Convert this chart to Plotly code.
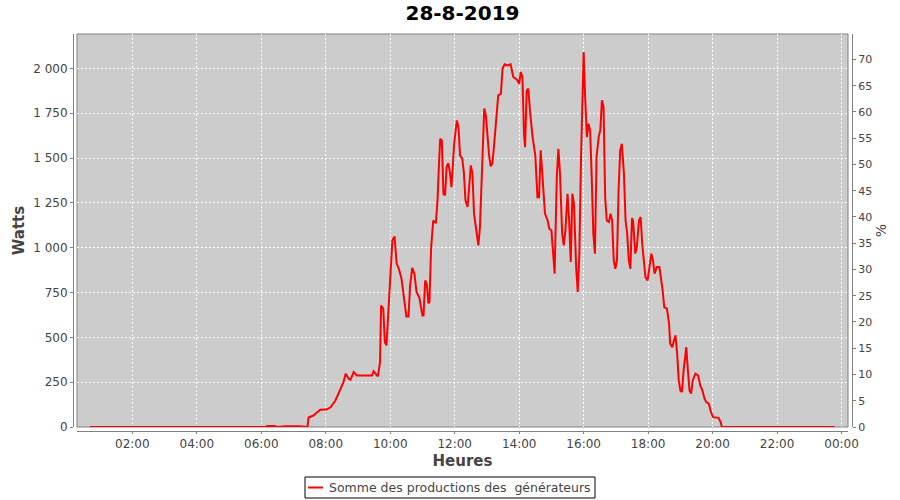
import plotly.graph_objects as go

DAY = "2019-08-28"

times = [
    "00:41", "03:00", "06:07", "06:12", "06:25", "06:30", "06:45", "07:10", "07:26",
    "07:28", "07:37", "07:43", "07:50", "08:01", "08:09", "08:18", "08:27", "08:33", "08:37",
    "08:43", "08:46", "08:52", "08:58", "09:26", "09:29", "09:37", "09:41", "09:43", "09:47",
    "09:50", "09:53", "09:56", "09:58", "10:04", "10:08", "10:12", "10:16", "10:21", "10:27",
    "10:30", "10:34", "10:37", "10:41", "10:45", "10:49", "10:54", "11:00", "11:02", "11:05",
    "11:08", "11:11", "11:13", "11:16", "11:20", "11:25", "11:28", "11:31", "11:33", "11:36",
    "11:39", "11:42", "11:45", "11:48", "11:51", "11:54", "11:59", "12:04", "12:07", "12:10",
    "12:14", "12:17", "12:20", "12:24", "12:27", "12:30", "12:33", "12:36", "12:41", "12:44",
    "12:47", "12:52", "12:55", "12:58", "13:01", "13:04", "13:07", "13:10", "13:13", "13:16",
    "13:21", "13:26", "13:29", "13:33", "13:38", "13:44", "13:49", "13:56", "14:00", "14:03",
    "14:06", "14:09", "14:11", "14:14", "14:17", "14:20", "14:25", "14:30", "14:34", "14:37",
    "14:40", "14:43", "14:48", "14:53", "14:56", "15:00", "15:03", "15:06", "15:10", "15:13",
    "15:16", "15:20", "15:23", "15:26", "15:30", "15:33", "15:36", "15:39", "15:42", "15:46",
    "15:49", "15:52", "15:55", "15:58", "16:00", "16:03", "16:06", "16:09", "16:12", "16:15",
    "16:18", "16:21", "16:24", "16:28", "16:31", "16:34", "16:37", "16:40", "16:43", "16:47",
    "16:50", "16:53", "16:56", "16:59", "17:02", "17:05", "17:08", "17:11", "17:15", "17:18",
    "17:21", "17:24", "17:27", "17:30", "17:32", "17:36", "17:39", "17:43", "17:46", "17:49",
    "17:52", "17:55", "17:59", "18:02", "18:06", "18:09", "18:12", "18:16", "18:21", "18:27",
    "18:30", "18:35", "18:39", "18:41", "18:45", "18:48", "18:51", "18:54", "18:57", "19:00",
    "19:03", "19:06", "19:11", "19:14", "19:17", "19:20", "19:23", "19:28", "19:33", "19:37",
    "19:41", "19:45", "19:48", "19:53", "19:57", "20:01", "20:05", "20:11", "20:15", "20:17",
    "22:00", "23:47",
]

watts = [
    0, 0, 0, 6, 6, 0, 4, 4, 0,
    53, 64, 79, 96, 97, 110, 148, 204, 250, 297,
    269, 263, 306, 287, 287, 311, 282, 362, 678, 660,
    473, 455, 632, 743, 1041, 1063, 911, 883, 827, 687,
    617, 617, 790, 888, 855, 752, 724, 622, 622, 817,
    799, 691, 696, 994, 1152, 1137, 1264, 1487, 1608, 1599,
    1301, 1292, 1450, 1472, 1422, 1338, 1580, 1710, 1673, 1515,
    1497, 1422, 1264, 1227, 1357, 1459, 1413, 1190, 1078, 1013,
    1115, 1599, 1776, 1738, 1608, 1515, 1454, 1469, 1561, 1692,
    1850, 1859, 1999, 2023, 2017, 2023, 1952, 1937, 1915, 1980,
    1952, 1636, 1561, 1878, 1887, 1766, 1617, 1515, 1282, 1282,
    1543, 1413, 1190, 1152, 1106, 1097, 967, 855, 1394, 1552,
    1413, 1078, 1013, 1097, 1301, 1152, 920, 1301, 1245, 892,
    752, 967, 1487, 1934, 2092, 1822, 1617, 1692, 1655, 1394,
    1078, 967, 1506, 1617, 1655, 1822, 1785, 1282, 1152, 1143,
    1190, 1152, 929, 883, 929, 1320, 1543, 1580, 1413, 1152,
    1078, 929, 883, 1165, 1150, 967, 1004, 1152, 1171, 1022,
    929, 836, 818, 873, 967, 929, 855, 892, 892, 762,
    669, 660, 576, 464, 445, 483, 511, 409, 260, 204,
    195, 316, 445, 316, 204, 186, 260, 297, 288, 232,
    204, 158, 139, 130, 83, 55, 55, 51, 27, 2,
    0, 0,
]

series_name = "Somme des productions des\u00a0 générateurs"
x_ticks_every_hours = 2
y_left_ticks = [0, 250, 500, 750, 1000, 1250, 1500, 1750, 2000]
y_right_ticks = [0, 5, 10, 15, 20, 25, 30, 35, 40, 45, 50, 55, 60, 65, 70]

x_values = [f"{DAY} {t}" for t in times]

FONT = "DejaVu Sans"
TXT = "#444444"
AX = "#808080"
RED = "#ff0000"

fig = go.Figure()
fig.add_trace(go.Scatter(
    x=x_values, y=watts, mode="lines",
    line=dict(color=RED, width=2),
    name=series_name, showlegend=False,
))
# invisible trace to bind the right axis
fig.add_trace(go.Scatter(x=[x_values[0]], y=[0], yaxis="y2", mode="lines",
                         line=dict(width=0), showlegend=False, hoverinfo="skip"))

W, H = 900, 500
ml, mr, mt, mb = 73, 48, 34, 69
pw = W - ml - mr
ph = H - mt - mb


def px_x(p):
    return (p - ml) / pw


def px_y(p):
    return (H - mb - p) / ph


# legend box (drawn by hand, JFreeChart style)
LB = dict(x0=305, x1=595, y0=477, y1=498)
leg_mid = (LB["y0"] + LB["y1"]) / 2

shapes = [
    dict(type="rect", xref="x domain", yref="y domain", x0=0, x1=1, y0=0, y1=1,
         line=dict(color=AX, width=1), fillcolor="rgba(0,0,0,0)", layer="below"),
    dict(type="rect", xref="paper", yref="paper",
         x0=px_x(LB["x0"]), x1=px_x(LB["x1"]), y0=px_y(LB["y1"]), y1=px_y(LB["y0"]),
         line=dict(color="black", width=1), fillcolor="white"),
    dict(type="line", xref="paper", yref="paper",
         x0=px_x(LB["x0"] + 3), x1=px_x(LB["x0"] + 18), y0=px_y(leg_mid), y1=px_y(leg_mid),
         line=dict(color=RED, width=2)),
]

annotations = [
    dict(text=series_name, xref="paper", yref="paper",
         x=px_x(LB["x0"] + 22), y=px_y(leg_mid), xanchor="left", yanchor="middle",
         showarrow=False, font=dict(family=FONT, size=12.5, color=TXT)),
]

fig.update_layout(
    width=W, height=H,
    margin=dict(l=ml, r=mr, t=mt, b=mb, pad=0, autoexpand=False),
    paper_bgcolor="white",
    plot_bgcolor="#cccccc",
    separators=", ",
    showlegend=False,
    font=dict(family=FONT, size=12, color=TXT),
    title=dict(text="<b>28-8-2019</b>", x=0.5, xref="paper", xanchor="center",
               y=1 - 13 / H, yref="container", yanchor="middle",
               font=dict(family=FONT, size=20, color="black")),
    xaxis=dict(
        type="date",
        automargin=False,
        domain=[4 / pw, 1 - 4 / pw],
        anchor="free", position=0,
        range=[f"{DAY} 00:17", "2019-08-29 00:12"],
        tick0=f"{DAY} 00:00", dtick=x_ticks_every_hours * 3600000,
        tickformat="%H:%M",
        showline=True, linecolor=AX, linewidth=1,
        ticks="outside", ticklen=2, tickcolor=AX,
        showgrid=True, gridcolor="white", gridwidth=1, griddash="2px,2px",
        zeroline=False,
        tickfont=dict(family=FONT, size=12, color=TXT),
        title=dict(text="<b>Heures</b>", standoff=5,
                   font=dict(family=FONT, size=15, color=TXT)),
    ),
    yaxis=dict(
        automargin=False,
        domain=[4 / ph, 1],
        anchor="free", position=0,
        range=[0, 2192],
        tickvals=y_left_ticks,
        tickformat=",d",
        showline=True, linecolor=AX, linewidth=1,
        ticks="outside", ticklen=3, tickcolor=AX,
        showgrid=True, gridcolor="white", gridwidth=1, griddash="2px,2px",
        zeroline=False,
        tickfont=dict(family=FONT, size=12, color=TXT),
        title=dict(text="<b>Watts</b>", standoff=3,
                   font=dict(family=FONT, size=15, color=TXT)),
    ),
    yaxis2=dict(
        automargin=False,
        overlaying="y", side="right",
        anchor="free", position=1,
        range=[0, 74.85],
        tickvals=y_right_ticks,
        showline=True, linecolor=AX, linewidth=1,
        ticks="outside", ticklen=3, tickcolor=AX,
        showgrid=False, zeroline=False,
        tickfont=dict(family=FONT, size=11, color=TXT),
        title=dict(text="%", standoff=4,
                   font=dict(family=FONT, size=14, color=TXT)),
    ),
    shapes=shapes,
    annotations=annotations,
)

fig.write_html(
    "out.html",
    config={"displayModeBar": False},
    post_script="document.body.style.margin='0';document.body.style.overflow='hidden';",
)
